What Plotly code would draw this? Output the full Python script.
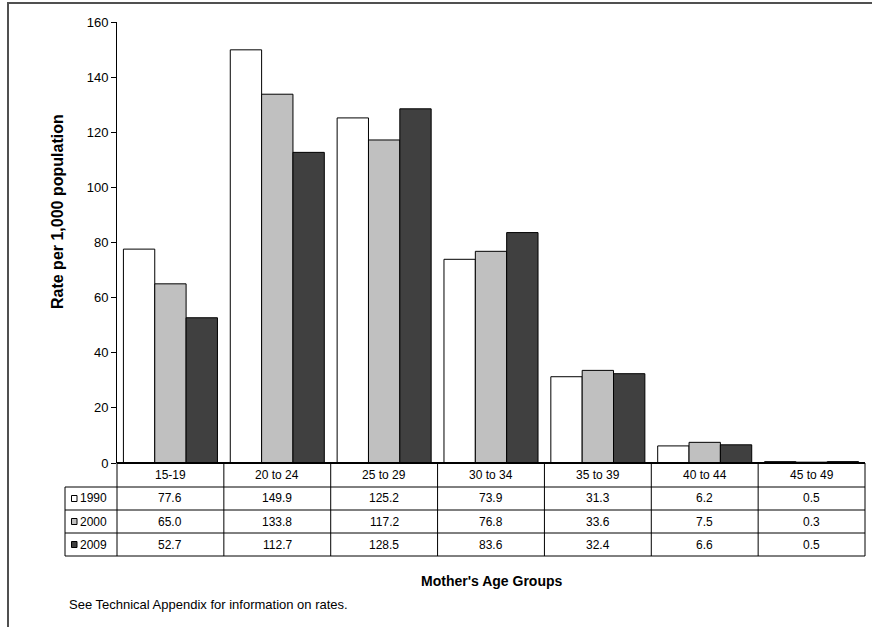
import plotly.graph_objects as go

# dades
grups_edat = ["15-19", "20 to 24", "25 to 29", "30 to 34", "35 to 39", "40 to 44", "45 to 49"]
anys = ["1990", "2000", "2009"]
taxa_1990 = [77.6, 149.9, 125.2, 73.9, 31.3, 6.2, 0.5]
taxa_2000 = [65.0, 133.8, 117.2, 76.8, 33.6, 7.5, 0.3]
taxa_2009 = [52.7, 112.7, 128.5, 83.6, 32.4, 6.6, 0.5]
colors = ["#FFFFFF", "#C0C0C0", "#404040"]

W, H = 872, 627
L, R, T, B = 117, 7, 22, 164
PW, PH = W - L - R, H - T - B
FONT = "Liberation Sans, Arial, sans-serif"


def px(x):
    return (x - L) / PW


def py(y):
    return (H - B - y) / PH


fig = go.Figure()
series = [taxa_1990, taxa_2000, taxa_2009]
for nom, vals, col in zip(anys, series, colors):
    fig.add_trace(go.Bar(
        x=grups_edat, y=vals, name=nom,
        marker=dict(color=col, line=dict(color="black", width=1)),
    ))

shapes = []
annots = []


def text(x, y, t, size, **kw):
    d = dict(x=x, y=y, xref="paper", yref="paper", text=t, showarrow=False,
             xanchor="center", yanchor="middle", font=dict(size=size, color="black"))
    d.update(kw)
    annots.append(d)


# marc exterior
shapes.append(dict(type="rect", xref="paper", yref="paper",
                   x0=px(8), x1=px(880), y0=py(640), y1=py(3),
                   line=dict(color="#505050", width=2)))

# taula de dades
n = len(grups_edat)
files = [463, 487, 510, 533, 556]
esq = px(65)
shapes.append(dict(type="line", xref="paper", yref="paper", x0=0, x1=1,
                   y0=py(files[0]), y1=py(files[0]), line=dict(color="black", width=2)))
for yy in files[1:]:
    shapes.append(dict(type="line", xref="paper", yref="paper", x0=esq, x1=1,
                       y0=py(yy), y1=py(yy), line=dict(color="black", width=1)))
for i in range(n + 1):
    shapes.append(dict(type="line", xref="paper", yref="paper", x0=i / n, x1=i / n,
                       y0=py(files[-1]), y1=py(files[0]), line=dict(color="black", width=1)))
shapes.append(dict(type="line", xref="paper", yref="paper", x0=esq, x1=esq,
                   y0=py(files[-1]), y1=py(files[1]), line=dict(color="black", width=1)))

ymid = [(files[j] + files[j + 1]) / 2 for j in range(len(files) - 1)]
for i, g in enumerate(grups_edat):
    text((i + 0.5) / n, py(ymid[0]), g, 12)
for r, (nom, vals, col) in enumerate(zip(anys, series, colors)):
    yc = py(ymid[r + 1])
    for i, v in enumerate(vals):
        text((i + 0.5) / n, yc, f"{v:.1f}", 12)
    # clau de llegenda
    shapes.append(dict(type="rect", xref="paper", yref="paper",
                       x0=px(71.5), x1=px(77), y0=yc - 3 / PH, y1=yc + 3 / PH,
                       fillcolor=col, line=dict(color="black", width=1)))
    text(px(78), yc, nom, 12, xanchor="left")

# títols
text(px(58), py(212), "<b>Rate per 1,000 population</b>", 16, textangle=-90)
text(0.5, py(581), "<b>Mother's Age Groups</b>", 14)
text(px(67), py(604), "See Technical Appendix for information on rates.", 13, xanchor="left")

fig.update_layout(
    width=W, height=H,
    margin=dict(l=L, r=R, t=T, b=B),
    barmode="group", bargap=0.12, bargroupgap=0,
    showlegend=False,
    plot_bgcolor="white", paper_bgcolor="white",
    font=dict(family=FONT, color="black"),
    shapes=shapes, annotations=annots,
    xaxis=dict(showticklabels=False, showgrid=False, showline=False, ticks=""),
    yaxis=dict(range=[0, 160], dtick=20, showgrid=False, zeroline=False,
               showline=True, linecolor="black", linewidth=1,
               ticks="outside", ticklen=5, tickcolor="black",
               tickfont=dict(size=13, color="black")),
)

fig.write_html("out.html", config={"displayModeBar": False},
               post_script="document.body.style.margin='0px';")
